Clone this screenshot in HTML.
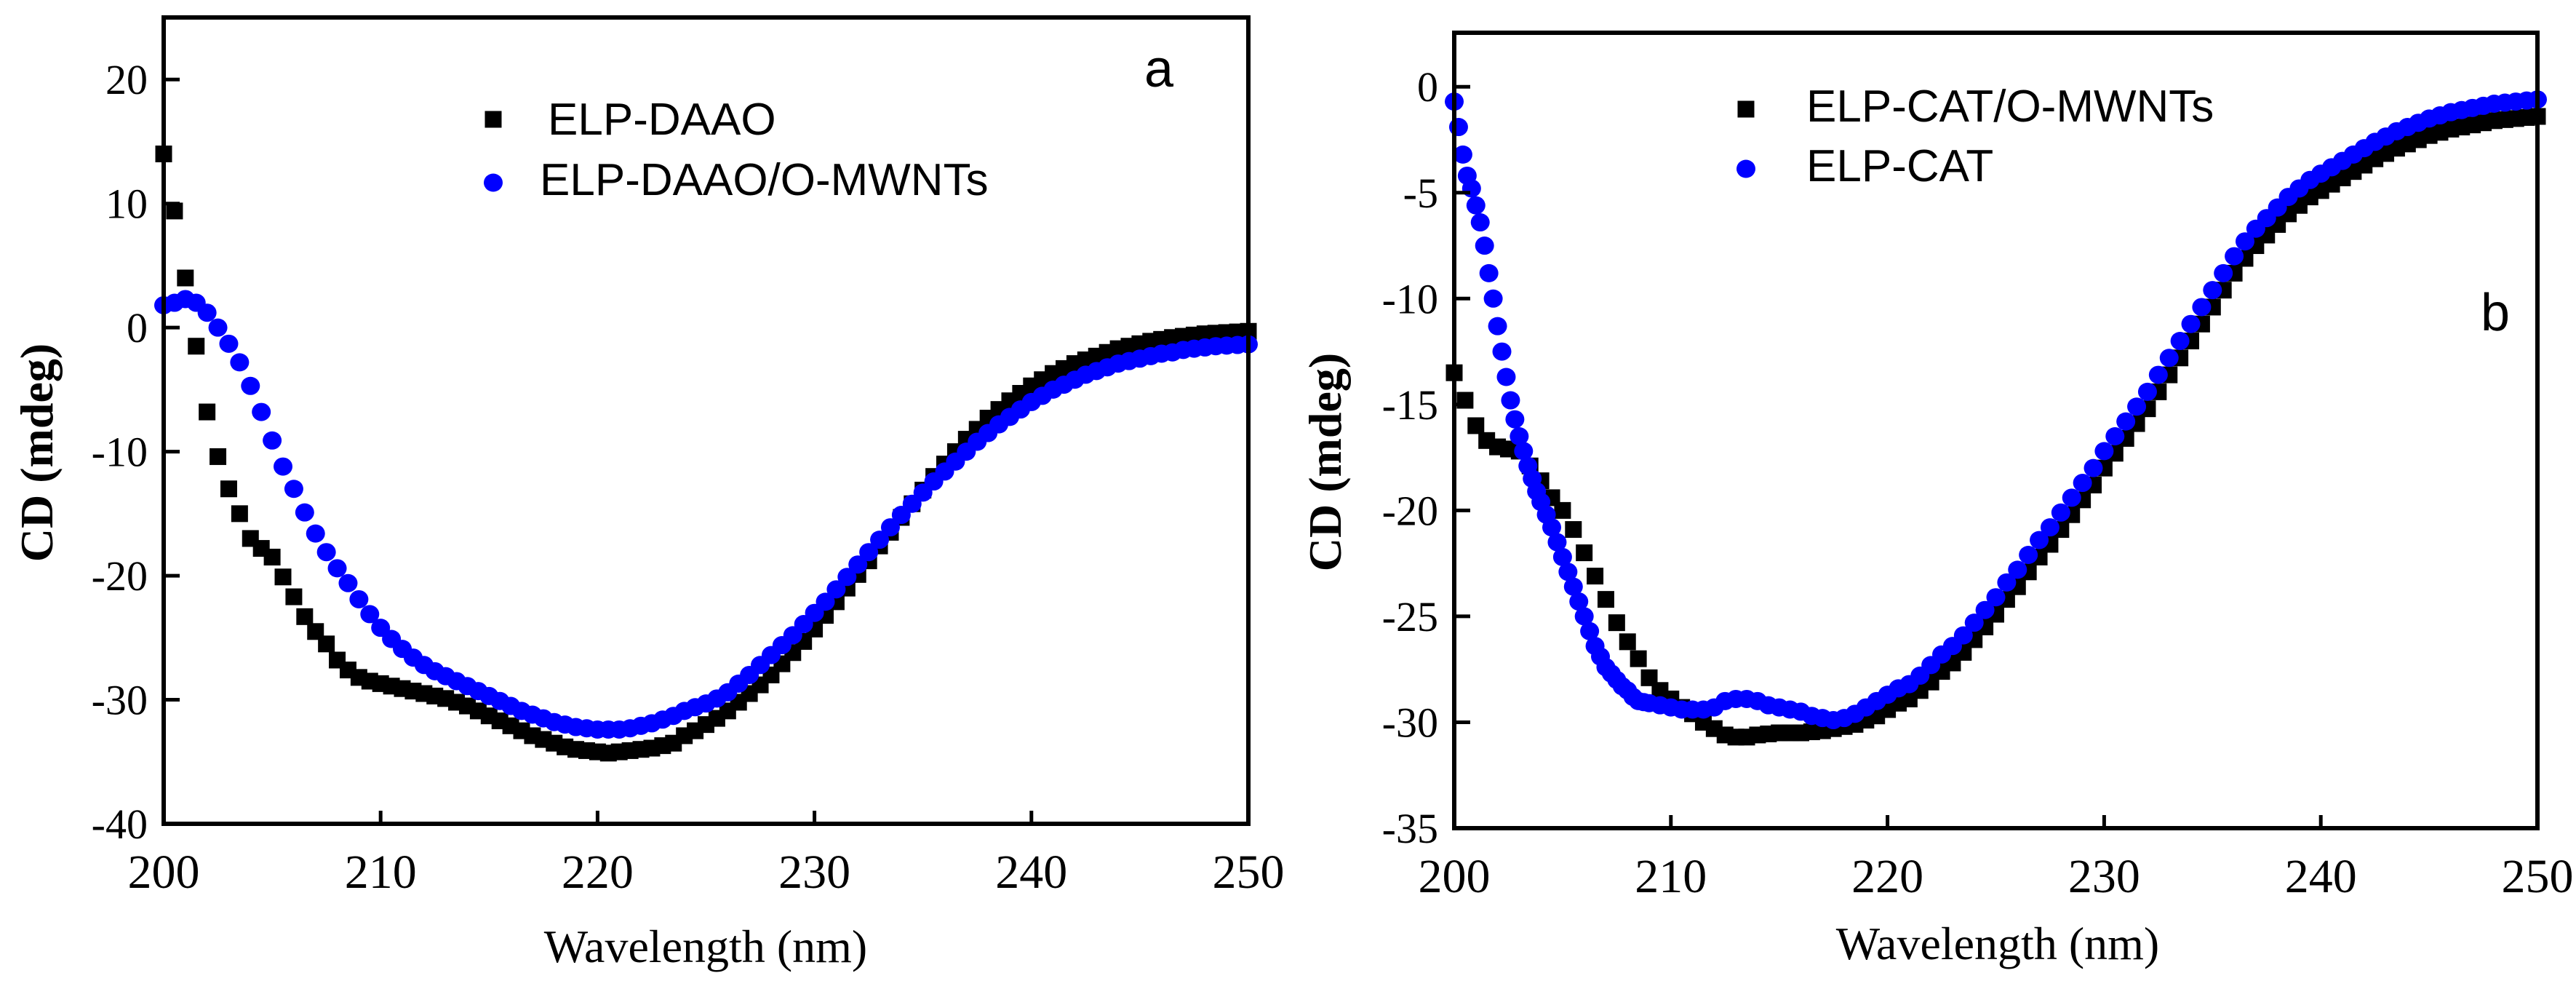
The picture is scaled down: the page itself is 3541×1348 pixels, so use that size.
<!DOCTYPE html>
<html><head><meta charset="utf-8"><style>
html,body{margin:0;padding:0;background:#fff}
svg{display:block}
.tk{font-family:"Liberation Serif",serif;fill:#000}
.lg{font-family:"Liberation Sans",sans-serif;fill:#000}
</style></head><body>
<svg id="chart" width="3541" height="1348" viewBox="0 0 3541 1348" xmlns="http://www.w3.org/2000/svg"></svg>
<script>
// ---- Panel a data ----
const aStart = 200, aStep = 0.5;
const aDAAO = [14,9.4,4,-1.5,-6.8,-10.4,-13,-15,-17,-17.8,-18.5,-20.1,-21.7,-23.3,-24.5,-25.5,-26.8,-27.6,-28.2,-28.5,
-28.7,-28.9,-29.1,-29.3,-29.5,-29.7,-29.9,-30.2,-30.5,-30.9,-31.3,-31.7,-32.1,-32.5,-32.9,-33.2,-33.5,-33.8,-34.0,-34.1,
-34.2,-34.3,-34.2,-34.1,-34.0,-33.9,-33.7,-33.5,-32.9,-32.5,-32.0,-31.5,-30.9,-30.2,-29.5,-28.8,-28.0,-27.1,-26.2,-25.3,
-24.3,-23.2,-22.1,-21.0,-19.9,-18.8,-17.6,-16.5,-15.3,-14.2,-13.1,-12.0,-11.0,-10.0,-9.0,-8.2,-7.3,-6.6,-5.9,-5.3,
-4.7,-4.2,-3.7,-3.3,-2.9,-2.6,-2.3,-2.0,-1.7,-1.5,-1.3,-1.1,-0.95,-0.8,-0.7,-0.6,-0.5,-0.45,-0.4,-0.35,-0.3];
const aDAAOMW = [1.8,2.0,2.3,2.0,1.2,0.0,-1.3,-2.8,-4.7,-6.8,-9.1,-11.2,-13.0,-14.9,-16.6,-18.1,-19.4,-20.6,-21.9,-23.1,
-24.2,-25.1,-25.9,-26.6,-27.2,-27.7,-28.1,-28.5,-28.9,-29.3,-29.7,-30.1,-30.5,-30.9,-31.2,-31.5,-31.8,-32.0,-32.2,-32.3,
-32.4,-32.4,-32.4,-32.3,-32.1,-31.9,-31.6,-31.3,-30.9,-30.6,-30.3,-29.9,-29.4,-28.7,-28.0,-27.2,-26.4,-25.6,-24.8,-23.9,
-23.0,-22.1,-21.1,-20.1,-19.1,-18.1,-17.1,-16.1,-15.1,-14.2,-13.3,-12.4,-11.6,-10.8,-10.0,-9.2,-8.5,-7.8,-7.2,-6.6,
-6.0,-5.5,-5.0,-4.6,-4.2,-3.8,-3.5,-3.2,-2.9,-2.7,-2.5,-2.3,-2.1,-2.0,-1.8,-1.7,-1.6,-1.5,-1.45,-1.4,-1.35];
const aYTicks = [20,10,0,-10,-20,-30,-40];
const xTicks = [200,210,220,230,240,250];
// ---- Panel b data ----
const bStart = 200, bStep = 0.5;
const bCATMW = [-13.5,-14.8,-16.0,-16.7,-17.0,-17.1,-17.2,-17.9,-18.6,-19.4,-20.0,-20.9,-22.0,-23.1,-24.2,-25.3,-26.2,-27.0,-27.9,-28.5,
-28.9,-29.3,-29.6,-30.0,-30.3,-30.6,-30.7,-30.7,-30.6,-30.55,-30.5,-30.5,-30.5,-30.45,-30.4,-30.3,-30.2,-30.1,-29.9,-29.7,
-29.4,-29.1,-28.9,-28.5,-28.1,-27.6,-27.2,-26.7,-26.1,-25.5,-24.9,-24.2,-23.6,-22.9,-22.2,-21.6,-20.9,-20.2,-19.5,-18.8,
-18.0,-17.3,-16.6,-15.9,-15.2,-14.4,-13.6,-12.8,-12.0,-11.2,-10.4,-9.6,-8.8,-8.1,-7.5,-7.0,-6.5,-6.0,-5.6,-5.2,
-4.9,-4.6,-4.3,-4.0,-3.7,-3.4,-3.15,-2.9,-2.7,-2.5,-2.3,-2.15,-2.0,-1.9,-1.8,-1.7,-1.6,-1.55,-1.5,-1.45,-1.4];
const bCATwl = [200,200.2,200.4,200.6,200.8,201,201.2,201.4,201.6,201.8,202,202.2,202.4,202.6,202.8,203,203.2,203.4,203.6,203.8,204,
204.25,204.5,204.75,205,205.25,205.5,205.75,206,206.25,206.5,206.75,207,207.25,207.5,207.75,208,208.25,208.5,208.75,209,209.5,210,210.5,211,211.5,212,212.5,213,213.5,214,214.5,215,215.5,216,216.5,
217,217.5,218,218.5,219,219.5,220,220.5,221,221.5,222,222.5,223,223.5,224,224.5,225,225.5,226,226.5,227,227.5,228,228.5,229,229.5,
230,230.5,231,231.5,232,232.5,233,233.5,234,234.5,235,235.5,236,236.5,237,237.5,238,238.5,239,239.5,240,240.5,241,241.5,242,242.5,
243,243.5,244,244.5,245,245.5,246,246.5,247,247.5,248,248.5,249,249.5,250];
const bCAT = [-0.7,-1.9,-3.2,-4.2,-4.8,-5.6,-6.4,-7.5,-8.8,-10.0,-11.3,-12.5,-13.7,-14.8,-15.7,-16.5,-17.2,-17.9,-18.5,-19.1,-19.6,
-20.2,-20.8,-21.5,-22.2,-22.9,-23.6,-24.3,-25.0,-25.7,-26.4,-26.9,-27.4,-27.7,-28.0,-28.3,-28.5,-28.8,-29.0,-29.05,-29.1,-29.2,-29.3,-29.4,-29.4,-29.4,-29.3,-29.0,-28.9,-28.9,-29.0,-29.2,-29.3,-29.4,-29.5,-29.7,
-29.8,-29.9,-29.8,-29.6,-29.3,-29.0,-28.7,-28.4,-28.2,-27.8,-27.3,-26.8,-26.4,-25.9,-25.3,-24.7,-24.1,-23.4,-22.8,-22.1,-21.4,-20.8,-20.1,-19.4,-18.7,-18.0,
-17.2,-16.5,-15.8,-15.1,-14.4,-13.6,-12.8,-12.0,-11.2,-10.4,-9.6,-8.8,-8.0,-7.3,-6.7,-6.2,-5.7,-5.2,-4.8,-4.4,-4.1,-3.8,-3.5,-3.2,-2.9,-2.6,
-2.35,-2.1,-1.9,-1.7,-1.5,-1.35,-1.2,-1.1,-1.0,-0.9,-0.8,-0.75,-0.7,-0.65,-0.6];
const bYTicks = [0,-5,-10,-15,-20,-25,-30,-35];

const NS = "http://www.w3.org/2000/svg";
const svg = document.getElementById('chart');
function mk(tag, attrs, parent){ const e=document.createElementNS(NS,tag); for(const k in attrs) e.setAttribute(k,attrs[k]); (parent||svg).appendChild(e); return e; }

function panel(P){
  const g = mk('g',{});
  
  
  const sx = v => P.L + (v - 200) / 50 * (P.R - P.L);
  const sy = v => P.B - (v - P.ymin) / (P.ymax - P.ymin) * (P.B - P.T);
  P.series.forEach(s=>{
    const sg = mk('g',{}, g);
    
    
    s.vals.forEach((v,i)=>{
      const w = s.wl ? s.wl[i] : s.start + i*s.step;
      let m;
      if(s.shape==='sq') m = mk('rect',{x:sx(w)-11.5,y:sy(v)-11.5,width:23,height:23,fill:'#000'}, sg);
      else m = mk('ellipse',{cx:sx(w),cy:sy(v),rx:13,ry:12.5,fill:'#0000ff'}, sg);
      
      
    });
  });
  const fr = mk('rect',{x:P.L,y:P.T,width:P.R-P.L,height:P.B-P.T,fill:'none',stroke:'#000','stroke-width':6}, g);
  
  
  xTicks.forEach(t=>{
    const x = sx(t);
    const l = mk('line',{x1:x,x2:x,y1:P.B,y2:P.B-18,stroke:'#000','stroke-width':5}, g);
    
    
    const tx = mk('text',{x:x,y:P.B+88,'text-anchor':'middle','font-size':66,class:'tk'}, g);
    tx.textContent = t;
    
    
  });
  P.yTicks.forEach(t=>{
    const y = sy(t);
    const l = mk('line',{x1:P.L,x2:P.L+22,y1:y,y2:y,stroke:'#000','stroke-width':5}, g);
    
    
    const tx = mk('text',{x:P.L-22,y:y+20,'text-anchor':'end','font-size':58,class:'tk'}, g);
    tx.textContent = t;
    
    
  });
  const xt = mk('text',{x:P.xtX,y:P.xtY,'text-anchor':'middle','font-size':64,class:'tk'}, g);
  xt.textContent = 'Wavelength (nm)';
  
  
  const yt = mk('text',{x:0,y:0,'text-anchor':'middle','font-size':64,'font-weight':'bold',class:'tk',transform:`translate(${P.ytX},${P.ytY}) rotate(-90)`}, g);
  yt.textContent = 'CD (mdeg)';
  
  
  P.legend.forEach(it=>{
    const lg = mk('g',{}, g);
    
    
    if(it.shape==='sq') mk('rect',{x:it.mx-11.5,y:it.my-11.5,width:23,height:23,fill:'#000'}, lg);
    else mk('ellipse',{cx:it.mx,cy:it.my,rx:13,ry:12.5,fill:'#0000ff'}, lg);
    const t = mk('text',{x:it.tx,y:it.ty,'font-size':62,class:'lg'}, lg);
    t.textContent = it.label;
  });
  const pl = mk('text',{x:P.letX,y:P.letY,'font-size':72,class:'lg'}, g);
  pl.textContent = P.letter;
  
  
}

panel({name:'panel-a', L:225, R:1716, T:24, B:1132, ymin:-40, ymax:25, yTicks:aYTicks,
  series:[{name:'series-elp-daao',shape:'sq',start:aStart,step:aStep,vals:aDAAO},
          {name:'series-elp-daao-o-mwnts',shape:'ci',start:aStart,step:aStep,vals:aDAAOMW}],
  legend:[{shape:'sq',mx:678,my:164,tx:753,ty:185,label:'ELP-DAAO'},
          {shape:'ci',mx:678,my:251,tx:742,ty:268,label:'ELP-DAAO/O-MWNTs'}],
  letter:'a', letX:1573, letY:119, xtX:970, xtY:1322, ytX:72, ytY:622});

panel({name:'panel-b', L:1999, R:3488, T:45, B:1138, ymin:-35, ymax:2.55, yTicks:bYTicks,
  series:[{name:'series-elp-cat-o-mwnts',shape:'sq',start:bStart,step:bStep,vals:bCATMW},
          {name:'series-elp-cat',shape:'ci',wl:bCATwl,vals:bCAT}],
  legend:[{shape:'sq',mx:2400,my:150,tx:2483,ty:167,label:'ELP-CAT/O-MWNTs'},
          {shape:'ci',mx:2400,my:232,tx:2483,ty:249,label:'ELP-CAT'}],
  letter:'b', letX:3410, letY:454, xtX:2746, xtY:1318, ytX:1843, ytY:635});
</script>
</body></html>
